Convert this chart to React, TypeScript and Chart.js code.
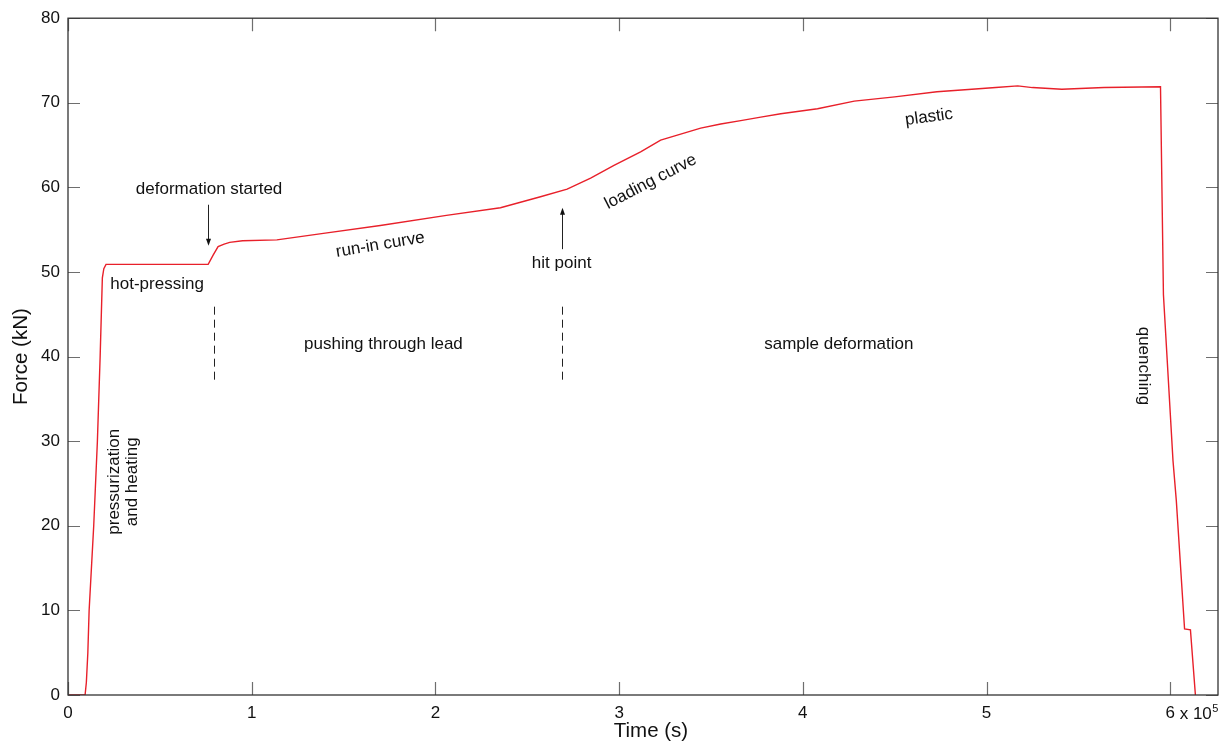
import React, { useEffect, useRef } from "react";
import { Chart, registerables } from "chart.js";

Chart.register(...registerables);

// Time in units of 10^5 s, force in kN
const timeValues = [
  0, 0.093, 0.1, 0.108, 0.115, 0.14, 0.16, 0.175, 0.187, 0.195, 0.207, 0.45,
  0.763, 0.79, 0.817, 0.85, 0.88, 0.95, 1.137, 1.4, 1.7, 2.06, 2.354, 2.572,
  2.717, 2.845, 2.972, 3.117, 3.226, 3.335, 3.444, 3.553, 3.662, 3.771, 3.88,
  4.08, 4.28, 4.5, 4.73, 4.92, 5.05, 5.17, 5.25, 5.41, 5.64, 5.947, 5.963,
  6.015, 6.033, 6.078, 6.11, 6.137,
];
const forceValues = [
  0, 0, 1.5, 5, 10, 20, 30, 40, 49.3, 50.4, 50.9, 50.9, 50.9, 52, 53.0, 53.3,
  53.5, 53.7, 53.8, 54.6, 55.5, 56.7, 57.6, 58.9, 59.8, 61.1, 62.6, 64.2, 65.6,
  66.3, 67.0, 67.5, 67.9, 68.3, 68.7, 69.3, 70.2, 70.7, 71.3, 71.6, 71.8, 72.0,
  71.8, 71.6, 71.8, 71.9, 47.3, 27.7, 23.0, 7.8, 7.7, 0,
];

const xTickValues = [0, 1, 2, 3, 4, 5, 6];
const yTickValues = [0, 10, 20, 30, 40, 50, 60, 70, 80];
const xExponentText = " x 10";
const xExponentPower = "5";
const xTitle = "Time (s)";
const yTitle = "Force (kN)";

// annotation labels (data coordinates)
const noteTexts = [
  "deformation started",
  "hot-pressing",
  "run-in curve",
  "hit point",
  "loading curve",
  "plastic",
  "pushing through lead",
  "sample deformation",
  "quenching",
];
const noteT = [0.768, 0.485, 1.70, 2.687, 3.172, 4.687, 1.717, 4.196, 5.853];
const noteF = [59.8, 48.5, 53.2, 51.0, 60.66, 68.3, 41.46, 41.46, 38.9];
const noteAngles = [0, 0, -9.5, 0, -27.4, -7.7, 0, 0, 90];

const stackedNoteLines = ["pressurization", "and heating"];
const stackedNoteT = [0.25, 0.352];
const stackedNoteF = 25.2;

// arrows: [t, fromF, toF]
const arrowT = [0.763, 2.687];
const arrowFrom = [57.95, 52.7];
const arrowTo = [53.1, 57.6];

// dashed separators
const dashT = [0.796, 2.687];
const dashFrom = 45.9;
const dashTo = 36.75;

const FONT = "'Liberation Sans', Arial, sans-serif";

const overlayPlugin = {
  id: "overlay",
  afterDraw(chart: any) {
    const { ctx, chartArea, scales } = chart;
    const { left, right, top, bottom } = chartArea;
    const x = scales.x;
    const y = scales.y;
    ctx.save();

    // inward tick marks on all four sides
    ctx.strokeStyle = "#6e6e6e";
    ctx.lineWidth = 1.2;
    ctx.beginPath();
    xTickValues.forEach((v) => {
      const px = Math.round(x.getPixelForValue(v)) + 0.5;
      ctx.moveTo(px, bottom);
      ctx.lineTo(px, bottom - 13);
      ctx.moveTo(px, top);
      ctx.lineTo(px, top + 13);
    });
    yTickValues.forEach((v) => {
      const py = Math.round(y.getPixelForValue(v)) + 0.5;
      ctx.moveTo(left, py);
      ctx.lineTo(left + 12, py);
      ctx.moveTo(right, py);
      ctx.lineTo(right - 12, py);
    });
    ctx.stroke();

    // frame
    ctx.strokeStyle = "#333333";
    ctx.lineWidth = 1.3;
    ctx.strokeRect(left, top, right - left, bottom - top);

    // exponent after "6"
    ctx.fillStyle = "#111";
    ctx.font = `17px ${FONT}`;
    ctx.textBaseline = "alphabetic";
    ctx.textAlign = "left";
    const p6 = x.getPixelForValue(6);
    const w6 = ctx.measureText("6").width;
    const baseY = bottom + 24;
    ctx.fillText(xExponentText, p6 + w6 / 2, baseY);
    const wExp = ctx.measureText(xExponentText).width;
    ctx.font = `11px ${FONT}`;
    ctx.fillText(xExponentPower, p6 + w6 / 2 + wExp + 0.5, baseY - 7);

    // axis titles
    ctx.font = `20.5px ${FONT}`;
    ctx.textAlign = "center";
    ctx.textBaseline = "middle";
    ctx.fillText(xTitle, (left + right) / 2 + 8, 731);
    ctx.save();
    ctx.translate(21, (top + bottom) / 2);
    ctx.rotate(-Math.PI / 2);
    ctx.fillText(yTitle, 0, 0);
    ctx.restore();

    // annotation texts
    ctx.font = `17px ${FONT}`;
    noteTexts.forEach((txt, i) => {
      ctx.save();
      ctx.translate(x.getPixelForValue(noteT[i]), y.getPixelForValue(noteF[i]));
      ctx.rotate((noteAngles[i] * Math.PI) / 180);
      ctx.fillText(txt, 0, 0);
      ctx.restore();
    });
    stackedNoteLines.forEach((txt, i) => {
      ctx.save();
      ctx.translate(x.getPixelForValue(stackedNoteT[i]), y.getPixelForValue(stackedNoteF));
      ctx.rotate(-Math.PI / 2);
      ctx.fillText(txt, 0, 0);
      ctx.restore();
    });

    // arrows
    ctx.strokeStyle = "#222";
    ctx.fillStyle = "#111";
    ctx.lineWidth = 1;
    arrowT.forEach((t, i) => {
      const px = Math.round(x.getPixelForValue(t)) + 0.5;
      const y0 = y.getPixelForValue(arrowFrom[i]);
      const y1 = y.getPixelForValue(arrowTo[i]);
      const dir = y1 > y0 ? 1 : -1;
      ctx.beginPath();
      ctx.moveTo(px, y0);
      ctx.lineTo(px, y1 - dir * 6);
      ctx.stroke();
      ctx.beginPath();
      ctx.moveTo(px, y1);
      ctx.lineTo(px - 2.5, y1 - dir * 7);
      ctx.lineTo(px + 2.5, y1 - dir * 7);
      ctx.closePath();
      ctx.fill();
    });

    // dashed separators
    ctx.setLineDash([8, 5]);
    ctx.strokeStyle = "#222";
    ctx.lineWidth = 1;
    dashT.forEach((t) => {
      const px = Math.round(x.getPixelForValue(t)) + 0.5;
      ctx.beginPath();
      ctx.moveTo(px, y.getPixelForValue(dashFrom));
      ctx.lineTo(px, y.getPixelForValue(dashTo));
      ctx.stroke();
    });
    ctx.setLineDash([]);

    ctx.restore();
  },
};

export default function App() {
  const canvasRef = useRef<HTMLCanvasElement | null>(null);

  useEffect(() => {
    if (!canvasRef.current) return;
    const chart = new Chart(canvasRef.current, {
      type: "line",
      data: {
        datasets: [
          {
            data: timeValues.map((t, i) => ({ x: t, y: forceValues[i] })),
            borderColor: "#e8202a",
            borderWidth: 1.4,
            pointRadius: 0,
            tension: 0,
            fill: false,
          },
        ],
      },
      options: {
        animation: false,
        responsive: true,
        maintainAspectRatio: false,
        layout: { padding: { left: 0, top: 16, right: 9, bottom: 0 } },
        plugins: {
          legend: { display: false },
          tooltip: { enabled: false },
        },
        scales: {
          x: {
            type: "linear",
            min: 0,
            max: 6.26,
            grid: { display: false, drawTicks: false },
            border: { display: false },
            ticks: {
              stepSize: 1,
              includeBounds: false,
              padding: 8,
              color: "#111",
              font: { family: FONT, size: 17 },
              maxRotation: 0,
            },
            afterFit: (s: any) => {
              s.height = 47;
            },
          },
          y: {
            min: 0,
            max: 80,
            grid: { display: false, drawTicks: false },
            border: { display: false },
            ticks: {
              stepSize: 10,
              padding: 8,
              color: "#111",
              font: { family: FONT, size: 17 },
            },
            afterFit: (s: any) => {
              s.width = 68;
            },
          },
        },
      },
      plugins: [overlayPlugin],
    });
    return () => chart.destroy();
  }, []);

  return (
    <div style={{ position: "absolute", left: 0, top: 0, width: 1227, height: 742, background: "#fff" }}>
      <canvas ref={canvasRef} />
    </div>
  );
}
